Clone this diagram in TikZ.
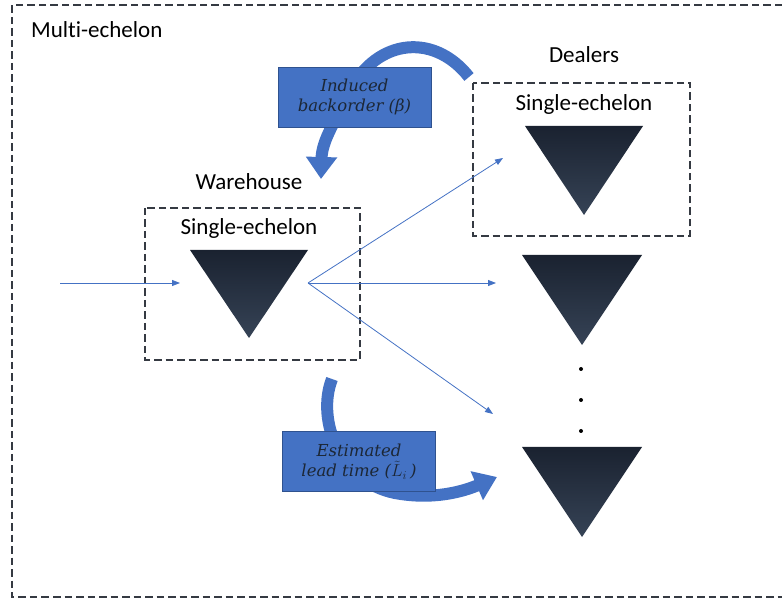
\documentclass[tikz,border=0pt]{standalone}
\usepackage{fontspec}
\setmainfont{Carlito}[Ligatures=CommonOff]
\newfontfamily\boxfont{DejaVu Serif}
\usepackage{tikz}
\usetikzlibrary{positioning,arrows.meta}
\definecolor{pptblue}{HTML}{4472C4}
\definecolor{pptedge}{HTML}{2F528F}
\definecolor{dashgray}{HTML}{353A42}
\definecolor{tritop}{HTML}{1A2230}
\definecolor{tribot}{HTML}{364356}
\definecolor{boxtext}{HTML}{1C2736}

\tikzset{
  echelon/.style={draw=dashgray, line width=2.3pt, dash pattern=on 7.5pt off 4pt},
  lbl/.style={font=\fontsize{23}{26}\selectfont, text=black, inner sep=0pt},
  infobox/.style={draw=pptedge, line width=0.8pt, fill=pptblue, text=boxtext,
    align=center, font=\boxfont\itshape\fontsize{16.5}{20}\selectfont,
    minimum width=153pt, minimum height=60pt, inner sep=0pt},
  flow/.style={draw=pptblue, line width=0.8pt, -{Triangle[width=6pt,length=8pt]}},
  bigarrow/.style={draw=pptblue, line width=12pt, -{Triangle[width=30pt,length=22pt]}},
}

\begin{document}
\begin{tikzpicture}[x=1pt, y=-1pt]
  \useasboundingbox (0,0) rectangle (782,601);

  % outer frame
  \draw[echelon] (782,5) -- (12,5) -- (12,597) -- (782,597);
  \node[lbl, anchor=west] (multi) at (31,30) {Multi-echelon};

  % warehouse
  \node[lbl] (whlabel) at (249,182) {Warehouse};
  \draw[echelon] (145,208) rectangle (360,360);
  \node[lbl] (whsingle) at (249,228) {Single-echelon};
  \shade[top color=tritop, bottom color=tribot] (190,250) -- (308,250) -- (249,338) -- cycle;

  % dealers
  \node[lbl] (dllabel) at (584,55) {Dealers};
  \draw[echelon] (473,83) rectangle (690,236);
  \node[lbl] (dlsingle) at (584,104) {Single-echelon};
  \shade[top color=tritop, bottom color=tribot] (525,126) -- (643,126) -- (584,215) -- cycle;
  \shade[top color=tritop, bottom color=tribot] (522,255) -- (642,255) -- (582,345) -- cycle;
  \shade[top color=tritop, bottom color=tribot] (522,447) -- (642,447) -- (582,537) -- cycle;
  \foreach \y in {369,400,431}
    \fill (581,\y) circle (2pt);

  % flows
  \coordinate (src) at (60,283);
  \coordinate (whin) at (180,283);
  \coordinate (whout) at (308,283);
  \coordinate (dl1) at (503,158);
  \coordinate (dl2) at (496,283);
  \coordinate (dl3) at (493,414);
  \draw[flow] (src) -- (whin);
  \draw[flow] (whout) -- (dl1);
  \draw[flow] (whout) -- (dl2);
  \draw[flow] (whout) -- (dl3);

  % curved feedback arrows (drawn behind the boxes)
  \coordinate (betatail) at (469,77);
  \coordinate (betahead) at (321,179);
  \draw[bigarrow] (betatail) .. controls (432,30) and (372,40) .. (347,97)
    .. controls (336,120) and (322,140) .. (betahead);
  \coordinate (leadtail) at (332,379);
  \coordinate (leadhead) at (497,477);
  \draw[bigarrow] (leadtail) .. controls (316,420) and (340,482) .. (395,493)
    .. controls (432,500) and (462,492) .. (leadhead);

  \node[infobox] (beta) at (354.5,97) {Induced\\backorder (β)};
  \node[infobox] (lead) at (359,461.5) {Estimated\\lead time ($\tilde{L}_{i}\,$)};
\end{tikzpicture}
\end{document}
